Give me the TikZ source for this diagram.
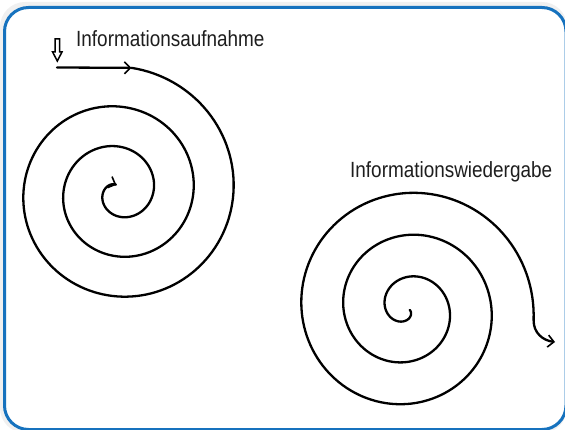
\documentclass[tikz,border=0pt]{standalone}
\usepackage{fontspec}
\usetikzlibrary{arrows.meta}
\newfontfamily\labelfont[FakeStretch=0.86]{Liberation Sans}
\definecolor{frameblue}{RGB}{22,114,190}
\definecolor{textgray}{RGB}{30,30,30}
\tikzset{
  spiral/.style={line width=2.3pt, black, line join=round, line cap=round},
  barb/.style={-{Straight Barb[length=6pt,width=12pt,line width=1.6pt]}},
  lbl/.style={inner sep=0pt, anchor=base west, text=textgray, font=\labelfont\fontsize{22}{22}\selectfont},
  hollowarrow/.style={draw=black, line width=1.5pt, fill=white, line join=miter}
}
\begin{document}
\begin{tikzpicture}[x=1pt,y=-1pt]
\useasboundingbox (0,0) rectangle (565,430);
% shadow and frame
\fill[black!12, rounded corners=25pt] (1,4) rectangle (566,432);
\fill[black!6, rounded corners=25pt] (0,2) rectangle (567,433);
\draw[frameblue, line width=3pt, fill=white, rounded corners=24pt] (4.5,7.5) rectangle (566,429.5);

% labels
\node[lbl] (auf) at (76,46.5) {Informationsaufnahme};
\node[lbl] (wie) at (350,178) {Informationswiedergabe};

% hollow down arrow
\draw[hollowarrow] (55,39) -- (59.6,39) -- (59.6,52) -- (62,52) -- (57.3,61) -- (52.6,52) -- (55,52) -- cycle;

% left spiral (inward)
\coordinate (lstart) at (57,67.5);
\coordinate (lentry) at ({118.5+124.33*sin(6)},{191.5-124.33*cos(6)});
\draw[spiral, barb] (lstart) -- (lentry);
\draw[spiral, barb] plot[domain=6:1062, samples=400, variable=\t]
  ({118.5+(125-\t/9)*sin(\t)},{191.5-(125-\t/9)*cos(\t)});

% right spiral (outward)
\coordinate (rtip) at (555,342);
\draw[spiral, barb] plot[domain=110:1175, samples=400, variable=\t]
  ({407+(\t*0.116667-10)*sin(\t)},{309-(\t*0.116667-10)*cos(\t)})
  .. controls (533.4,333) and (543,340.5) .. (rtip);
\end{tikzpicture}
\end{document}
